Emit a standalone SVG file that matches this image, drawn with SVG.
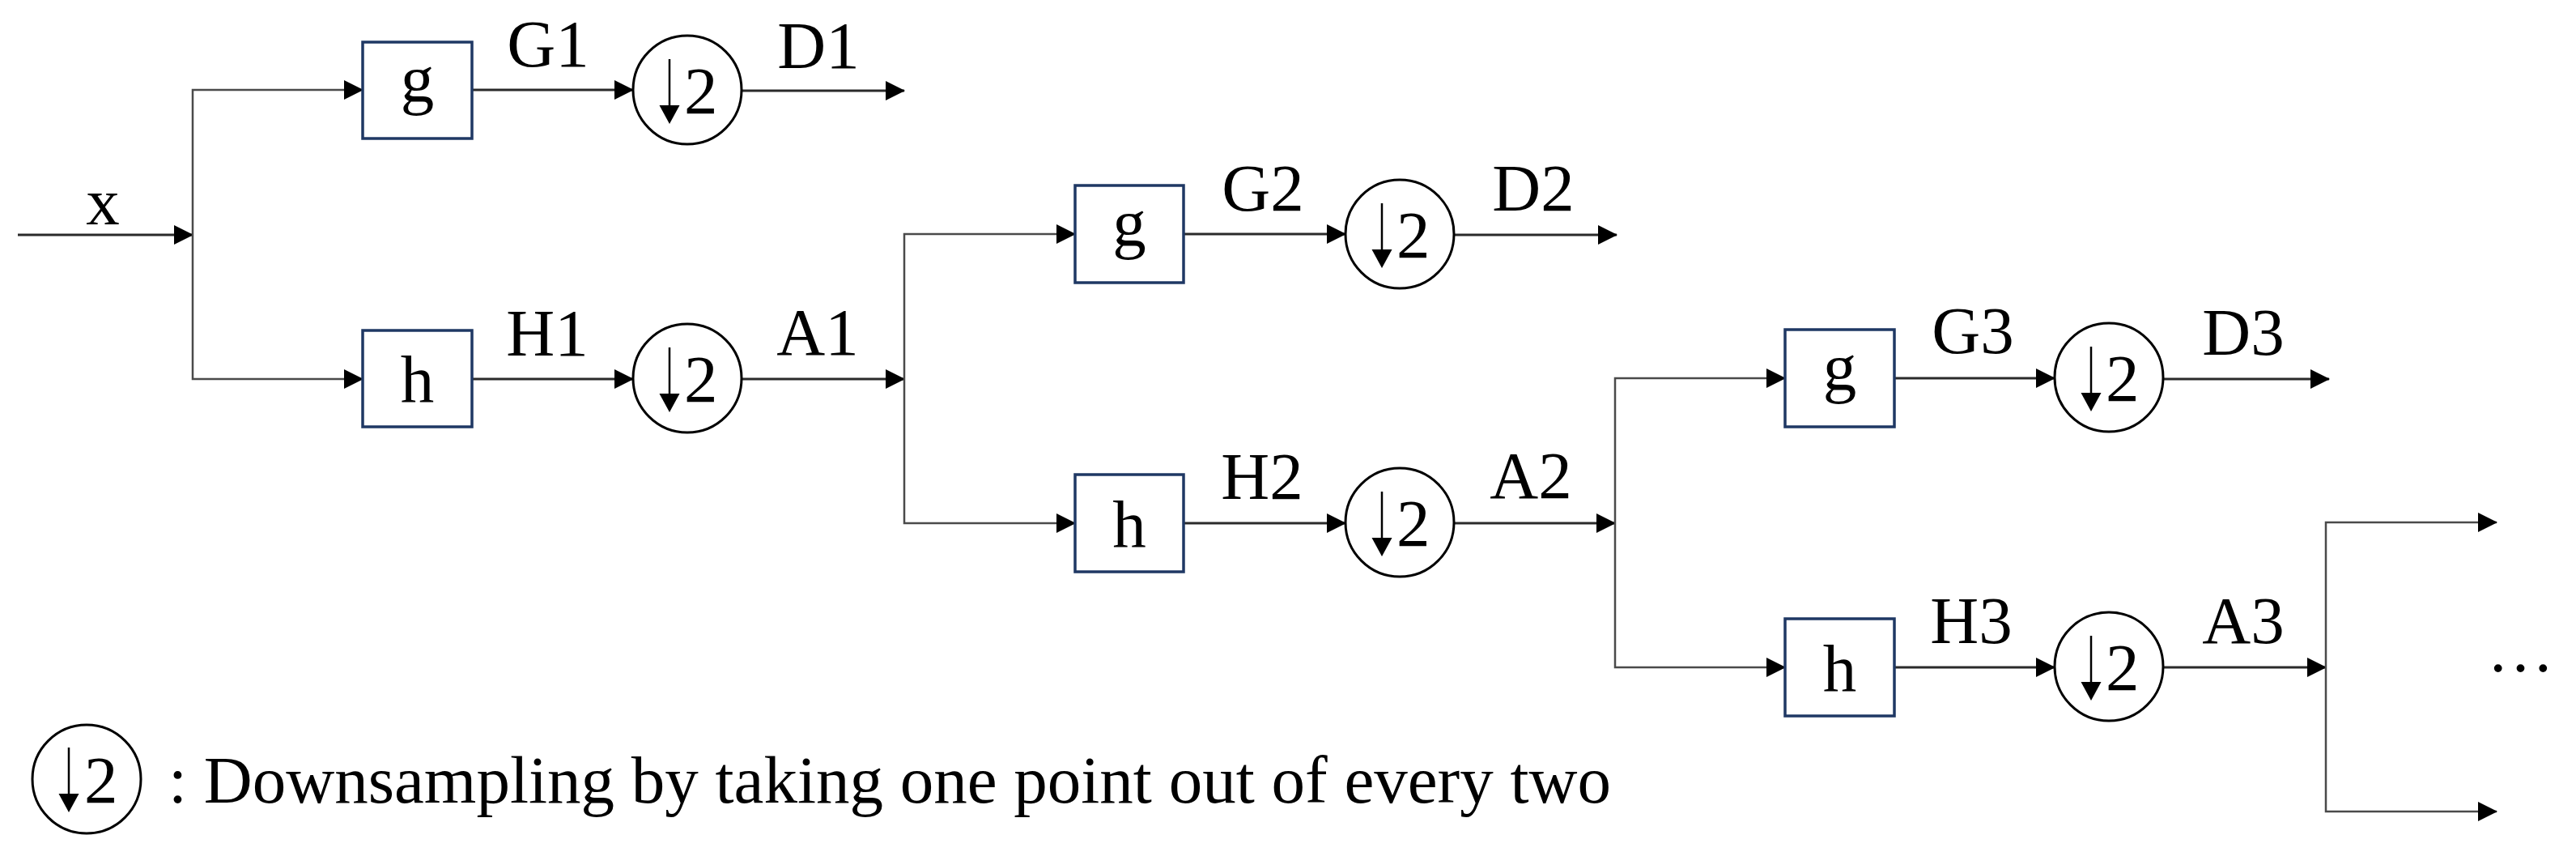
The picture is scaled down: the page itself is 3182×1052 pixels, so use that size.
<svg xmlns="http://www.w3.org/2000/svg" width="3182" height="1052" viewBox="0 0 3182 1052">
<defs>
<style>
.t{font-family:"Liberation Serif","Times New Roman",serif;font-size:83px;fill:#000}
.m{text-anchor:middle}
.box{fill:#fff;stroke:#1f3864;stroke-width:3.5}
.ds{fill:#fff;stroke:#000;stroke-width:3}
.stem{stroke:#000;stroke-width:2.5}
.head{fill:#000}
.c{fill:none;stroke:#2a2a2a;stroke-width:3;marker-end:url(#ah)}
.s{fill:none;stroke:#4a4a4a;stroke-width:2.5;marker-end:url(#ah)}
</style>
<marker id="ah" markerUnits="userSpaceOnUse" markerWidth="24" markerHeight="24" refX="23" refY="12" orient="auto">
<path d="M0,0 L24,12 L0,24 Z" fill="#000"/>
</marker>
</defs>
<rect width="3182" height="1052" fill="#fff"/>

<g id="connectors">
<path class="c" d="M22,290 H238"/>
<path class="s" d="M238,290 V111 H448"/>
<path class="s" d="M238,290 V468 H448"/>
<path class="c" d="M583,111 H782"/>
<path class="c" d="M583,468 H782"/>
<path class="c" d="M916,112 H1117"/>
<path class="c" d="M916,468 H1117"/>
<path class="s" d="M1117,468 V289 H1328"/>
<path class="s" d="M1117,468 V646 H1328"/>
<path class="c" d="M1463,289 H1662"/>
<path class="c" d="M1463,646 H1662"/>
<path class="c" d="M1796,290 H1997"/>
<path class="c" d="M1796,646 H1995"/>
<path class="s" d="M1995,646 V467 H2205"/>
<path class="s" d="M1995,646 V824 H2205"/>
<path class="c" d="M2340,467 H2538"/>
<path class="c" d="M2340,824 H2538"/>
<path class="c" d="M2672,468 H2877"/>
<path class="c" d="M2672,824 H2873"/>
<path class="s" d="M2873,824 V645 H3084"/>
<path class="s" d="M2873,824 V1002 H3084"/>
</g>

<g id="labels">
<text class="t m" x="127" y="277">x</text>
<text class="t m" x="677" y="82">G1</text>
<text class="t m" x="1011" y="84">D1</text>
<text class="t m" x="676" y="439">H1</text>
<text class="t m" x="1010" y="438">A1</text>
<text class="t m" x="1560" y="260">G2</text>
<text class="t m" x="1894" y="260">D2</text>
<text class="t m" x="1559" y="616">H2</text>
<text class="t m" x="1891" y="615">A2</text>
<text class="t m" x="2437" y="436">G3</text>
<text class="t m" x="2771" y="438">D3</text>
<text class="t m" x="2435" y="794">H3</text>
<text class="t m" x="2771" y="794">A3</text>
<text class="t" x="3072" y="829">…</text>
</g>

<g id="g1"><rect class="box" x="448" y="52" width="135" height="119"/><text class="t m" x="515.5" y="125">g</text></g>
<g id="h1"><rect class="box" x="448" y="408" width="135" height="119"/><text class="t m" x="515.5" y="496">h</text></g>
<g id="g2"><rect class="box" x="1328" y="229" width="134" height="120"/><text class="t m" x="1395" y="303">g</text></g>
<g id="h2"><rect class="box" x="1328" y="586" width="134" height="120"/><text class="t m" x="1395" y="675">h</text></g>
<g id="g3"><rect class="box" x="2205" y="407" width="135" height="120"/><text class="t m" x="2272.5" y="481">g</text></g>
<g id="h3"><rect class="box" x="2205" y="764" width="135" height="120"/><text class="t m" x="2272.5" y="853">h</text></g>

<g id="ds1a"><circle class="ds" cx="849" cy="111" r="67"/><line class="stem" x1="827" y1="73" x2="827" y2="132"/><polygon class="head" points="814.5,130 839.5,130 827,153"/><text class="t" x="845" y="140">2</text></g>
<g id="ds1b"><circle class="ds" cx="849" cy="467" r="67"/><line class="stem" x1="827" y1="429" x2="827" y2="488"/><polygon class="head" points="814.5,486 839.5,486 827,509"/><text class="t" x="845" y="496">2</text></g>
<g id="ds2a"><circle class="ds" cx="1729" cy="289" r="67"/><line class="stem" x1="1707" y1="251" x2="1707" y2="310"/><polygon class="head" points="1694.5,308 1719.5,308 1707,331"/><text class="t" x="1725" y="318">2</text></g>
<g id="ds2b"><circle class="ds" cx="1729" cy="645" r="67"/><line class="stem" x1="1707" y1="607" x2="1707" y2="666"/><polygon class="head" points="1694.5,664 1719.5,664 1707,687"/><text class="t" x="1725" y="674">2</text></g>
<g id="ds3a"><circle class="ds" cx="2605" cy="466" r="67"/><line class="stem" x1="2583" y1="428" x2="2583" y2="487"/><polygon class="head" points="2570.5,485 2595.5,485 2583,508"/><text class="t" x="2601" y="495">2</text></g>
<g id="ds3b"><circle class="ds" cx="2605" cy="823" r="67"/><line class="stem" x1="2583" y1="785" x2="2583" y2="844"/><polygon class="head" points="2570.5,842 2595.5,842 2583,865"/><text class="t" x="2601" y="852">2</text></g>

<g id="legend"><circle class="ds" cx="107" cy="962" r="67"/><line class="stem" x1="85" y1="923" x2="85" y2="982"/><polygon class="head" points="72.5,980 97.5,980 85,1003"/><text class="t" x="104" y="991">2</text><text class="t" x="208" y="991">: Downsampling by taking one point out of every two</text></g>
</svg>
